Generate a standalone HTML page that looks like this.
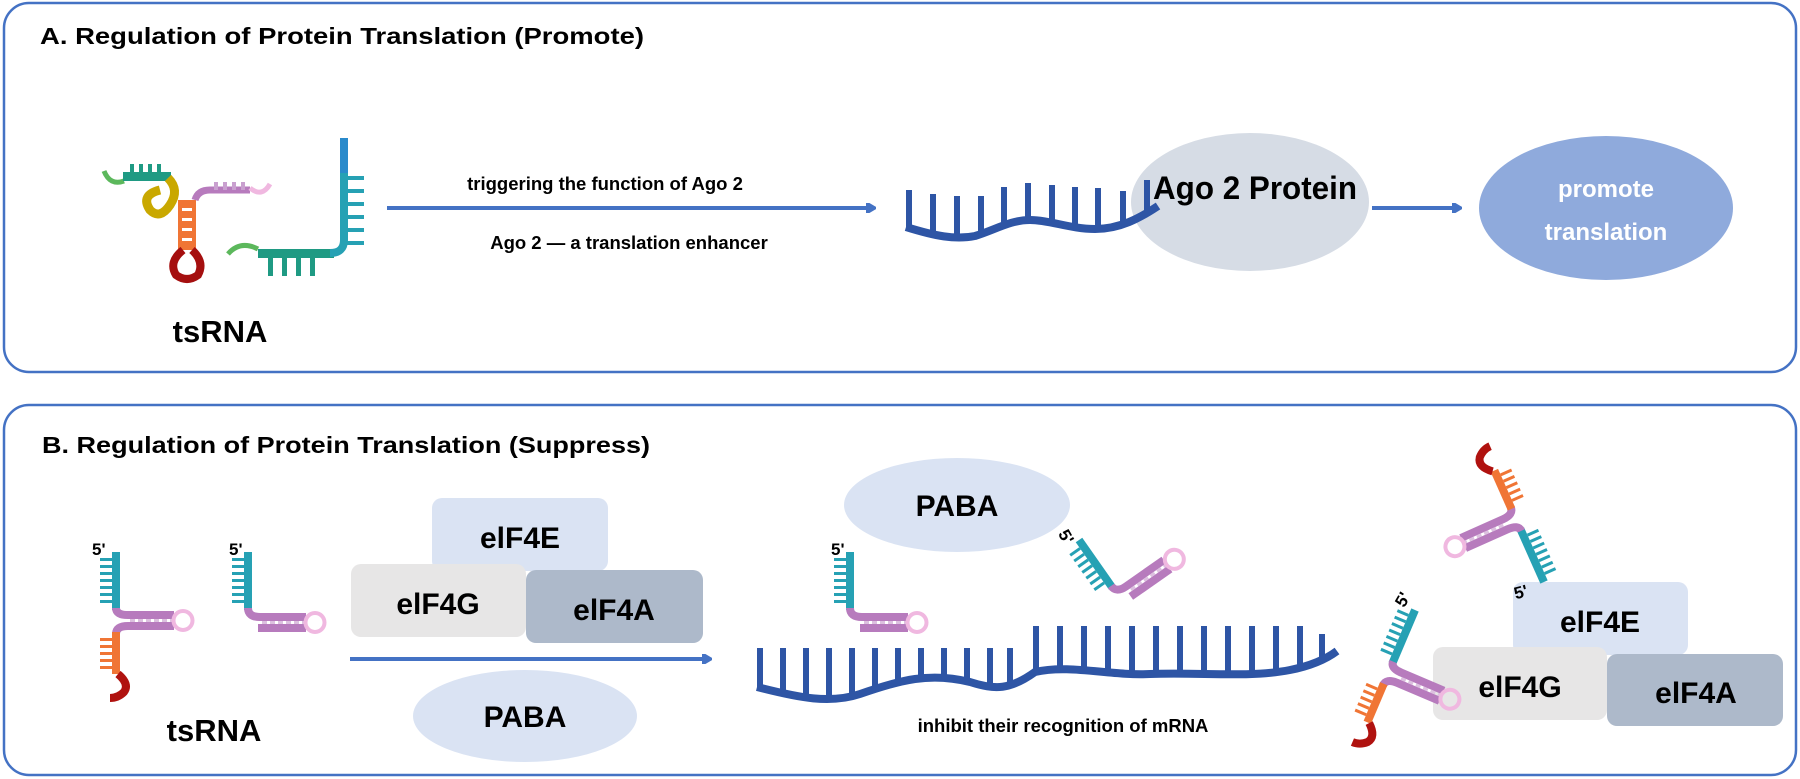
<!DOCTYPE html>
<html><head><meta charset="utf-8"><style>
html,body{margin:0;padding:0;background:#fff;}
svg{display:block;}
text{font-family:"Liberation Sans",sans-serif;font-weight:bold;}
</style></head><body>
<svg width="1800" height="779" viewBox="0 0 1800 779" xmlns="http://www.w3.org/2000/svg">
<defs>
<g id="teal">
 <rect x="-4" y="0" width="8" height="58" fill="#26a1b4"/>
 <g fill="#26a1b4"><rect x="-16" y="6" width="12" height="3"/><rect x="-16" y="13" width="12" height="3"/><rect x="-16" y="20" width="12" height="3"/><rect x="-16" y="27" width="12" height="3"/><rect x="-16" y="34" width="12" height="3"/><rect x="-16" y="41" width="12" height="3"/><rect x="-16" y="48" width="12" height="3"/></g>
</g>
<g id="ts3">
 <use href="#teal"/>
 <path d="M0,56 Q0,63 12,63 L58,63" stroke="#b77bbd" stroke-width="8" fill="none"/>
 <path d="M0,82 Q0,74 12,74 L58,74" stroke="#b77bbd" stroke-width="8" fill="none"/>
 <line x1="14" y1="68.5" x2="58" y2="68.5" stroke="#dcc0df" stroke-width="3" stroke-dasharray="5 3"/>
 <circle cx="67" cy="68.5" r="9.5" stroke="#f0b8e0" stroke-width="4" fill="none"/>
 <rect x="-4" y="80" width="8" height="42" fill="#f07535"/>
 <g fill="#f07535"><rect x="-16" y="86" width="12" height="3"/><rect x="-16" y="93" width="12" height="3"/><rect x="-16" y="100" width="12" height="3"/><rect x="-16" y="107" width="12" height="3"/><rect x="-16" y="114" width="12" height="3"/></g>
 <path d="M2,122 Q14,132 8,140 Q2,146 -6,146" stroke="#b0120f" stroke-width="8" fill="none"/>
</g>
<g id="ts2">
 <use href="#teal"/>
 <path d="M0,56 Q0,65 12,65 L58,65" stroke="#b77bbd" stroke-width="8" fill="none"/>
 <path d="M10,76 L58,76" stroke="#b77bbd" stroke-width="8" fill="none"/>
 <line x1="14" y1="70.5" x2="58" y2="70.5" stroke="#dcc0df" stroke-width="3" stroke-dasharray="5 3"/>
 <circle cx="67" cy="70.5" r="9.5" stroke="#f0b8e0" stroke-width="4" fill="none"/>
</g>
<marker id="ah" markerWidth="10" markerHeight="10" refX="8" refY="5" orient="auto" markerUnits="userSpaceOnUse"><path d="M0,-2 L12,5 L0,12 Z" fill="#4472c4"/></marker>
</defs>

<rect x="4" y="3" width="1792" height="369" rx="25" fill="none" stroke="#4472c4" stroke-width="2.5"/>
<rect x="4" y="405" width="1792" height="370" rx="25" fill="none" stroke="#4472c4" stroke-width="2.5"/>

<text x="40" y="44" font-size="23" textLength="604" lengthAdjust="spacingAndGlyphs">A. Regulation of Protein Translation (Promote)</text>
<text x="42" y="453" font-size="23" textLength="608" lengthAdjust="spacingAndGlyphs">B. Regulation of Protein Translation (Suppress)</text>

<g>
 <path d="M104,171 Q110,186 124,181" stroke="#5cb85c" stroke-width="5" fill="none"/>
 <rect x="123" y="172" width="48" height="9" fill="#1f9a83"/>
 <g fill="#1f9a83"><rect x="130" y="164" width="4" height="8"/><rect x="139" y="164" width="4" height="8"/><rect x="148" y="164" width="4" height="8"/><rect x="157" y="164" width="4" height="8"/></g>
 <path d="M168,178 Q180,190 170,205 Q160,220 150,210 Q140,195 160,190" stroke="#c9a800" stroke-width="9" fill="none"/>
 <rect x="178" y="200" width="18" height="50" fill="#f07535"/>
 <g fill="#fff"><rect x="182" y="208" width="10" height="3"/><rect x="182" y="218" width="10" height="3"/><rect x="182" y="228" width="10" height="3"/><rect x="182" y="238" width="10" height="3"/></g>
 <path d="M183,250 Q168,262 176,275 Q187,283 198,275 Q205,262 192,250" stroke="#a50f0f" stroke-width="8" fill="none"/>
 <path d="M195,200 Q198,190 210,190 L250,190" stroke="#b77bbd" stroke-width="7" fill="none"/>
 <g fill="#c9a0cf"><rect x="214" y="182" width="4" height="8"/><rect x="223" y="182" width="4" height="8"/><rect x="232" y="182" width="4" height="8"/><rect x="241" y="182" width="4" height="8"/></g>
 <path d="M250,188 Q262,198 270,184" stroke="#f0b8e0" stroke-width="5" fill="none"/>
 <path d="M228,254 Q240,240 258,249" stroke="#5cb85c" stroke-width="5" fill="none"/>
 <rect x="258" y="249" width="76" height="9" fill="#1f9a83"/>
 <g fill="#1f9a83"><rect x="268" y="258" width="5" height="18"/><rect x="282" y="258" width="5" height="18"/><rect x="296" y="258" width="5" height="18"/><rect x="310" y="258" width="5" height="18"/></g>
 <path d="M330,253 Q344,253 344,240 L344,138" stroke="#26a1b4" stroke-width="8" fill="none"/>
 <rect x="340" y="138" width="8" height="35" fill="#2a8acb"/>
 <g fill="#26a1b4"><rect x="344" y="176" width="20" height="4"/><rect x="344" y="189" width="20" height="4"/><rect x="344" y="202" width="20" height="4"/><rect x="344" y="215" width="20" height="4"/><rect x="344" y="228" width="20" height="4"/><rect x="344" y="241" width="20" height="4"/></g>
</g>
<text x="220" y="342" font-size="31" text-anchor="middle">tsRNA</text>

<line x1="387" y1="208" x2="874" y2="208" stroke="#4472c4" stroke-width="4" marker-end="url(#ah)"/>
<text x="605" y="190" font-size="18.5" text-anchor="middle">triggering the function of Ago 2</text>
<text x="629" y="249" font-size="18.5" text-anchor="middle">Ago 2 — a translation enhancer</text>

<ellipse cx="1250" cy="202" rx="119" ry="69" fill="#d6dce5"/>
<path d="M906,227 C935,236 955,240 975,236 C995,230 1010,220 1030,220 C1050,220 1070,229 1095,229 C1120,229 1140,218 1158,206" stroke="#2e55a5" stroke-width="8" fill="none"/>
<g stroke="#2e55a5" stroke-width="6">
 <line x1="909" y1="190" x2="909" y2="228"/><line x1="933" y1="194" x2="933" y2="234"/><line x1="957" y1="196" x2="957" y2="238"/><line x1="981" y1="196" x2="981" y2="234"/><line x1="1004" y1="187" x2="1004" y2="226"/><line x1="1028" y1="183" x2="1028" y2="220"/><line x1="1052" y1="185" x2="1052" y2="222"/><line x1="1075" y1="187" x2="1075" y2="227"/><line x1="1098" y1="188" x2="1098" y2="228"/><line x1="1123" y1="191" x2="1123" y2="224"/><line x1="1147" y1="180" x2="1147" y2="214"/>
</g>
<text x="1255" y="199" font-size="32" text-anchor="middle" textLength="204" lengthAdjust="spacingAndGlyphs">Ago 2 Protein</text>

<line x1="1372" y1="208" x2="1460" y2="208" stroke="#4472c4" stroke-width="4" marker-end="url(#ah)"/>
<ellipse cx="1606" cy="208" rx="127" ry="72" fill="#8faadc"/>
<text x="1606" y="197" font-size="24" text-anchor="middle" fill="#fff">promote</text>
<text x="1606" y="240" font-size="24" text-anchor="middle" fill="#fff">translation</text>

<use href="#ts3" x="116" y="552"/>
<text x="92" y="555" font-size="17">5'</text>
<use href="#ts2" x="248" y="552"/>
<text x="229" y="555" font-size="17">5'</text>
<text x="214" y="741" font-size="31" text-anchor="middle">tsRNA</text>

<rect x="432" y="498" width="176" height="73" rx="10" fill="#dae3f3"/>
<rect x="351" y="564" width="175" height="73" rx="10" fill="#e7e6e6"/>
<rect x="526" y="570" width="177" height="73" rx="10" fill="#adb9ca"/>
<text x="520" y="548" font-size="30" text-anchor="middle">elF4E</text>
<text x="438" y="614" font-size="30" text-anchor="middle">elF4G</text>
<text x="614" y="620" font-size="30" text-anchor="middle">elF4A</text>

<line x1="350" y1="659" x2="710" y2="659" stroke="#4472c4" stroke-width="4" marker-end="url(#ah)"/>
<ellipse cx="525" cy="716" rx="112" ry="46" fill="#dae3f3"/>
<text x="525" y="727" font-size="30" text-anchor="middle">PABA</text>

<ellipse cx="957" cy="505" rx="113" ry="47" fill="#dae3f3"/>
<text x="957" y="516" font-size="30" text-anchor="middle">PABA</text>

<use href="#ts2" x="850" y="552"/>
<text x="831" y="555" font-size="17">5'</text>

<g transform="translate(1079,540) rotate(-35)"><use href="#ts2"/></g>
<text x="1060" y="542" font-size="17" transform="rotate(60 1066 536)">5'</text>

<path d="M757,687 C800,698 830,704 860,694 C900,680 930,672 970,682 C995,690 1010,690 1035,672 C1070,664 1110,676 1150,674 C1200,672 1250,678 1290,670 C1310,666 1325,660 1337,651" stroke="#2e55a5" stroke-width="8" fill="none"/>
<g stroke="#2e55a5" stroke-width="6">
 <line x1="760" y1="648" x2="760" y2="688"/><line x1="783" y1="648" x2="783" y2="694"/><line x1="806" y1="648" x2="806" y2="698"/><line x1="829" y1="648" x2="829" y2="699"/><line x1="852" y1="648" x2="852" y2="696"/><line x1="875" y1="648" x2="875" y2="690"/><line x1="898" y1="648" x2="898" y2="684"/><line x1="921" y1="648" x2="921" y2="679"/><line x1="944" y1="648" x2="944" y2="677"/><line x1="967" y1="648" x2="967" y2="681"/><line x1="990" y1="648" x2="990" y2="688"/><line x1="1010" y1="648" x2="1010" y2="686"/>
 <line x1="1036" y1="626" x2="1036" y2="672"/><line x1="1060" y1="626" x2="1060" y2="668"/><line x1="1084" y1="626" x2="1084" y2="669"/><line x1="1108" y1="626" x2="1108" y2="672"/><line x1="1132" y1="626" x2="1132" y2="674"/><line x1="1156" y1="626" x2="1156" y2="674"/><line x1="1180" y1="626" x2="1180" y2="673"/><line x1="1204" y1="626" x2="1204" y2="673"/><line x1="1228" y1="626" x2="1228" y2="675"/><line x1="1252" y1="626" x2="1252" y2="676"/><line x1="1276" y1="626" x2="1276" y2="673"/><line x1="1300" y1="626" x2="1300" y2="666"/><line x1="1322" y1="634" x2="1322" y2="660"/>
</g>
<text x="1063" y="732" font-size="18.5" text-anchor="middle">inhibit their recognition of mRNA</text>

<rect x="1513" y="582" width="175" height="73" rx="10" fill="#dae3f3"/>
<rect x="1433" y="647" width="174" height="73" rx="10" fill="#e7e6e6"/>
<rect x="1607" y="654" width="176" height="72" rx="10" fill="#adb9ca"/>
<text x="1600" y="632" font-size="30" text-anchor="middle">elF4E</text>
<text x="1520" y="697" font-size="30" text-anchor="middle">elF4G</text>
<text x="1696" y="703" font-size="30" text-anchor="middle">elF4A</text>

<g transform="translate(1544,582) rotate(156)"><use href="#ts3"/></g>
<text x="1514" y="598" font-size="17" transform="rotate(-15 1520 592)">5'</text>
<g transform="translate(1415,610) rotate(23)"><use href="#ts3"/></g>
<text x="1396" y="606" font-size="17" transform="rotate(-60 1402 600)">5'</text>
</svg>
</body></html>
